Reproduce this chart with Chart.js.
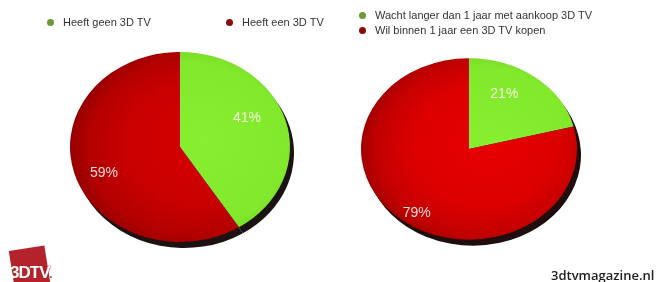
<!DOCTYPE html>
<html><head><meta charset="utf-8">
<script src="https://cdn.jsdelivr.net/npm/chart.js@4/dist/chart.umd.min.js"></script>
<style>
html,body{margin:0;padding:0;background:#fff;width:670px;height:282px;overflow:hidden;position:relative;font-family:"Liberation Sans",Arial,Helvetica,sans-serif;}
.wrap{position:absolute;width:260px;height:260px;}
.item{position:absolute;white-space:nowrap;font-size:11px;line-height:13px;color:#333;z-index:5;}
.dot{position:absolute;width:7px;height:7px;border-radius:50%;left:-16.5px;top:3px;}
#logo{position:absolute;left:12px;top:248px;width:36px;height:44px;background:#b4232b;transform:rotate(-9deg);z-index:2;}
#logoTxt{position:absolute;left:10px;top:263px;font:bold 17px "Liberation Sans",Arial,sans-serif;color:#fff;letter-spacing:-1px;z-index:3;}
#logoTxt span{color:#fff;text-shadow:0 0 1px #b4232b,0 0 1px #b4232b,0 0 1px #b4232b;}
#logoTxt i{font-style:normal;color:#b4232b;font-size:10px;}
#site{position:absolute;left:551px;top:266px;font:600 13px "Open Sans",sans-serif;color:#1e1e1e;white-space:nowrap;}
</style></head>
<body>
<div class="wrap" style="left:50px;top:17px"><canvas id="c1" width="260" height="260"></canvas></div>
<div class="wrap" style="left:339px;top:19px"><canvas id="c2" width="260" height="260"></canvas></div>
<div id="legends"></div>
<div id="logo"></div>
<div id="logoTxt">3DT<span>V</span><i>.</i></div>
<div id="site">3dtvmagazine.nl</div>
<script>
// ---- data ----
const leftLabels = ['Heeft geen 3D TV', 'Heeft een 3D TV'];
const leftValues = [41, 59];
const rightLabels = ['Wacht langer dan 1 jaar met aankoop 3D TV', 'Wil binnen 1 jaar een 3D TV kopen'];
const rightValues = [21, 79];
const legendDotColors = ['#6b9b32', '#8c0c0c'];

// ---- legends (HTML text) ----
const legendPos = {
  left: [[63, 16], [242, 16]],
  right: [[375, 9], [375, 24]]
};
function buildLegend(labels, pos) {
  const host = document.getElementById('legends');
  labels.forEach((t, i) => {
    const d = document.createElement('div');
    d.className = 'item';
    d.style.left = pos[i][0] + 'px';
    d.style.top = pos[i][1] + 'px';
    const dot = document.createElement('span');
    dot.className = 'dot';
    dot.style.background = legendDotColors[i];
    d.appendChild(dot);
    d.appendChild(document.createTextNode(t));
    host.appendChild(d);
  });
}
buildLegend(leftLabels, legendPos.left);
buildLegend(rightLabels, legendPos.right);

// ---- fills ----
function radialFill(stops) {
  return function (c) {
    const a = c.chart.chartArea;
    if (!a) return stops[0][1];
    const cx = (a.left + a.right) / 2, cy = (a.top + a.bottom) / 2;
    const g = c.chart.ctx.createRadialGradient(cx + 25, cy - 10, 5, cx + 10, cy, 118);
    stops.forEach(s => g.addColorStop(s[0], s[1]));
    return g;
  };
}
const greenFill = radialFill([[0, '#88ee30'], [0.8, '#82e82c'], [1, '#74d424']]);
const redFillL = radialFill([[0, '#d60000'], [0.6, '#c80000'], [0.88, '#b20000'], [1, '#980000']]);
const redFillR = radialFill([[0, '#e80000'], [0.6, '#dc0000'], [0.88, '#c20000'], [1, '#a20000']]);

// ---- plugin: tilt, rim shadow, percentage labels ----
const pieLook = {
  id: 'pieLook',
  beforeDatasetsDraw(chart, args, o) {
    const meta = chart.getDatasetMeta(0);
    const el = meta.data[0];
    if (!el) return;
    const ctx = chart.ctx;
    const cx = el.x, cy = el.y;
    ctx.save();
    ctx.translate(cx, cy);
    ctx.scale(1, o.sy);
    ctx.translate(-cx, -cy);
    ctx.save();
    ctx.translate(o.dx, o.dy / o.sy);
    meta.data.forEach(a => {
      const op = a.options;
      const bg = op.backgroundColor, bw = op.borderWidth;
      op.backgroundColor = o.shadow;
      op.borderWidth = 0;
      a.draw(ctx);
      op.backgroundColor = bg;
      op.borderWidth = bw;
    });
    ctx.restore();
  },
  afterDatasetsDraw(chart, args, o) {
    const meta = chart.getDatasetMeta(0);
    if (!meta.data[0]) return;
    const ctx = chart.ctx;
    ctx.restore();
    const vals = chart.data.datasets[0].data;
    ctx.save();
    ctx.font = '14px "Liberation Sans", Arial, sans-serif';
    ctx.textAlign = 'center';
    ctx.textBaseline = 'middle';
    ctx.fillStyle = 'rgba(255,245,240,0.9)';
    meta.data.forEach((a, i) => {
      const mid = (a.startAngle + a.endAngle) / 2;
      const r = a.outerRadius * o.f;
      const x = a.x + Math.cos(mid) * r + o.lx[i];
      const y = a.y + Math.sin(mid) * r * o.sy + o.ly[i];
      ctx.fillText(vals[i] + '%', x, y);
    });
    ctx.restore();
  }
};

function makePie(id, labels, values, fills, look, radius) {
  return new Chart(document.getElementById(id), {
    type: 'pie',
    data: {
      labels: labels,
      datasets: [{
        data: values,
        backgroundColor: c => fills[c.dataIndex](c),
        borderWidth: 0,
        radius: radius,
        hoverOffset: 0,
        offset: 0,
        clip: false
      }]
    },
    options: {
      responsive: false,
      maintainAspectRatio: false,
      devicePixelRatio: 1,
      animation: false,
      events: [],
      layout: { padding: 0 },
      plugins: {
        legend: { display: false },
        tooltip: { enabled: false },
        pieLook: look
      }
    },
    plugins: [pieLook]
  });
}

makePie('c1', leftLabels, leftValues, [greenFill, redFillL],
  { sy: 0.864, dx: 4, dy: 6, shadow: '#1c1212', f: 0.7, lx: [-7, -2], ly: [-10, 8] }, 110);
makePie('c2', rightLabels, rightValues, [greenFill, redFillR],
  { sy: 0.84, dx: 4, dy: 6, shadow: '#1e0e0e', f: 0.7, lx: [-11, -6], ly: [-5, 14] }, 108);
</script>
</body></html>
